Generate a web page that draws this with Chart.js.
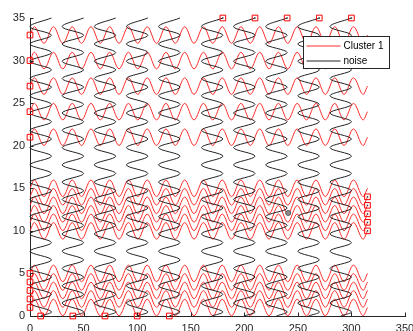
<!DOCTYPE html>
<html><head><meta charset="utf-8">
<script src="https://cdn.jsdelivr.net/npm/chart.js@4.4.0/dist/chart.umd.min.js"></script>
<style>html,body{margin:0;padding:0;background:#fff;overflow:hidden}canvas{display:block}</style>
</head><body>
<canvas id="c" width="413" height="331"></canvas>
<script>
// ---- data ----
const xTickValues = [0, 50, 100, 150, 200, 250, 300, 350];
const yTickValues = [0, 5, 10, 15, 20, 25, 30, 35];

// Cluster 1: horizontal waves, centre line of each row
const clusterRowsY = [33, 30, 27, 24, 21, 15, 14, 13, 12, 11, 10, 5, 4, 3, 2, 1];
const clusterStartX = 0;
const clusterEndX = 315;
// x positions of successive crests / troughs along every row
const clusterCrestX = [4.4, 13.1, 21.9, 30.6, 39.4, 48.1, 56.9, 65.6, 74.4, 83.1, 91.9, 100.6,
  109.4, 118.1, 126.9, 135.6, 144.4, 153.1, 161.9, 170.6, 179.4, 188.1, 196.9, 205.6, 214.4,
  223.1, 231.9, 240.6, 249.4, 258.1, 266.9, 275.6, 284.4, 293.1, 301.9, 310.6];
const clusterAmplitude = 0.97;

// noise: vertical waves, centre line of each column
const noiseColumnsX = [10, 40, 70, 100, 130, 170, 200, 230, 260, 290];
const noiseStartY = 0;
// y positions of successive right / left turns along every column
const noiseCrestY = [0.51, 1.52, 2.54, 3.55, 4.57, 5.58, 6.59, 7.61, 8.62, 9.64, 10.65, 11.67,
  12.68, 13.69, 14.71, 15.72, 16.74, 17.75, 18.77, 19.78, 20.79, 21.81, 22.82, 23.84, 24.85,
  25.87, 26.88, 27.89, 28.91, 29.92, 30.94, 31.95, 32.97, 33.98, 35.0];
const noiseAmplitude = 10;

// square markers
const squareX = [0, 0, 0, 0, 0, 0, 0, 0, 0, 0, 315, 315, 315, 315, 315, 10, 40, 70, 100, 130, 180, 210, 240, 270, 300];
const squareY = [33, 30, 27, 24, 21, 5, 4, 3, 2, 1, 14, 13, 12, 11, 10, 0, 0, 0, 0, 0, 35, 35, 35, 35, 35];
// small dark dots inside some squares
const innerDotX = [315, 315, 315, 315, 315, 180, 210, 240, 270, 300];
const innerDotY = [14, 13, 12, 11, 10, 35, 35, 35, 35, 35];

// grey dot
const dotX = [241];
const dotY = [12.1];

const seriesNames = ['Cluster 1', 'noise'];
const seriesColors = ['rgb(255,45,45)', 'rgb(35,35,35)'];

// ---- build datasets ----
function rowPoints(y0) {
  const pts = [{x: clusterStartX, y: y0}];
  clusterCrestX.forEach((x, i) => pts.push({x: x, y: y0 + (i % 2 === 0 ? clusterAmplitude : -clusterAmplitude)}));
  pts.push({x: clusterEndX, y: y0});
  return pts;
}
function columnPoints(x0) {
  const pts = [{x: x0, y: noiseStartY}];
  noiseCrestY.forEach((y, i) => pts.push({x: x0 + (i % 2 === 0 ? noiseAmplitude : -noiseAmplitude), y: y}));
  return pts;
}
const lineBase = {showLine: true, pointRadius: 0, pointHoverRadius: 0, borderWidth: 1, tension: 0.36, fill: false, clip: false};
const datasets = [];
datasets.push({
  label: 'innerDots', data: innerDotX.map((x, i) => ({x: x, y: innerDotY[i]})),
  showLine: false, pointStyle: 'rect', pointRadius: 1, borderWidth: 0, clip: false,
  borderColor: 'rgba(0,0,0,0)', backgroundColor: 'rgb(60,60,60)'
});
datasets.push({
  label: 'squares', data: squareX.map((x, i) => ({x: x, y: squareY[i]})),
  showLine: false, pointStyle: 'rect', pointRadius: 4, borderWidth: 1, clip: false,
  borderColor: 'rgb(255,0,0)', backgroundColor: 'rgba(0,0,0,0)'
});
datasets.push({
  label: 'dot', data: dotX.map((x, i) => ({x: x, y: dotY[i]})),
  showLine: false, pointStyle: 'circle', pointRadius: 2.5, borderWidth: 1, clip: false,
  borderColor: 'rgb(90,90,90)', backgroundColor: 'rgb(140,140,140)'
});
noiseColumnsX.forEach(x0 => datasets.push(Object.assign({label: seriesNames[1], data: columnPoints(x0), borderColor: seriesColors[1]}, lineBase)));
clusterRowsY.forEach(y0 => datasets.push(Object.assign({label: seriesNames[0], data: rowPoints(y0), borderColor: seriesColors[0]}, lineBase)));

const axisColor = '#262626';
const tickFont = {family: 'Liberation Sans, Arial, sans-serif', size: 11};

const matlabLook = {
  id: 'matlabLook',
  afterDraw(chart) {
    const ctx = chart.ctx, a = chart.chartArea, xs = chart.scales.x, ys = chart.scales.y;
    ctx.save();
    ctx.strokeStyle = axisColor; ctx.lineWidth = 1;
    ctx.beginPath();
    xTickValues.forEach(v => { const p = Math.round(xs.getPixelForValue(v)) + 0.5; ctx.moveTo(p, a.bottom); ctx.lineTo(p, a.bottom - 3.5); });
    yTickValues.forEach(v => { const p = Math.round(ys.getPixelForValue(v)) + 0.5; ctx.moveTo(a.left, p); ctx.lineTo(a.left + 3.5, p); });
    ctx.stroke();
    // legend box
    const bx = 303.5, by = 36.5, bw = 86, bh = 32;
    ctx.fillStyle = '#fff'; ctx.fillRect(bx, by, bw, bh);
    ctx.strokeStyle = axisColor; ctx.strokeRect(bx, by, bw, bh);
    ctx.font = '10px Liberation Sans, Arial, sans-serif';
    ctx.textBaseline = 'middle'; ctx.textAlign = 'left';
    seriesNames.forEach((name, i) => {
      const yy = by + 9.5 + i * 15;
      ctx.strokeStyle = seriesColors[i]; ctx.lineWidth = 1;
      ctx.beginPath(); ctx.moveTo(bx + 3, yy); ctx.lineTo(bx + 37, yy); ctx.stroke();
      ctx.fillStyle = '#000'; ctx.fillText(name, bx + 40, yy);
    });
    ctx.restore();
  }
};

new Chart(document.getElementById('c'), {
  type: 'scatter',
  data: {datasets: datasets},
  options: {
    responsive: false, animation: false, events: [],
    layout: {padding: {left: 0, right: 8, top: 18, bottom: 0}},
    plugins: {legend: {display: false}, tooltip: {enabled: false}},
    scales: {
      x: {
        type: 'linear', min: 0, max: 350,
        grid: {display: false, drawTicks: false},
        border: {display: true, color: axisColor, width: 1},
        afterBuildTicks: s => { s.ticks = xTickValues.map(v => ({value: v})); },
        afterFit: s => { s.height = 15; s.paddingLeft = 0; s.paddingRight = 0; },
        ticks: {color: axisColor, font: tickFont, padding: 6, maxRotation: 0, autoSkip: false}
      },
      y: {
        type: 'linear', min: 0, max: 35,
        grid: {display: false, drawTicks: false},
        border: {display: true, color: axisColor, width: 1},
        afterBuildTicks: s => { s.ticks = yTickValues.map(v => ({value: v})); },
        afterFit: s => { s.width = 30; s.paddingTop = 0; s.paddingBottom = 0; },
        ticks: {color: axisColor, font: tickFont, padding: 5, autoSkip: false}
      }
    }
  },
  plugins: [matlabLook]
});
</script>
</body></html>
